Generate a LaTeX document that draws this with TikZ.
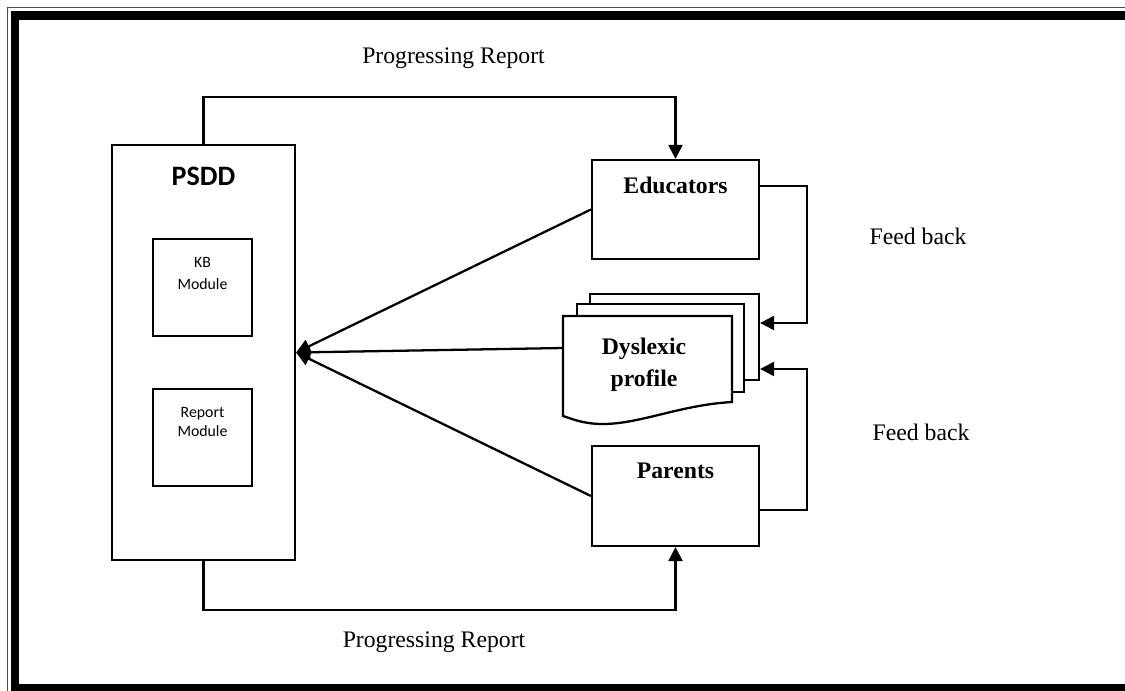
\documentclass[tikz,border=0pt]{standalone}
\usepackage{fontspec}
\setmainfont{Liberation Serif}
\newfontfamily\calibri{Carlito}
\usepackage{tikz}
\usetikzlibrary{arrows.meta,positioning}

\tikzset{
  box/.style={draw, line width=1.3pt, rectangle, inner sep=0pt},
  boxtxt/.style={anchor=north, inner sep=0pt, align=center},
  page/.style={draw, line width=1.3pt, fill=white, rectangle, inner sep=0pt},
  lbl/.style={font=\fontsize{13.5}{16}\selectfont},
}

\begin{document}
\begin{tikzpicture}[x=0.02cm, y=-0.02cm, line width=1.3pt,
    >={Triangle[length=8pt,width=8pt]}]
   \clip (0,0) rectangle (1125,690);
   \useasboundingbox (0,0) rectangle (1125,690);
   \draw[line width=0.7pt, black!70] (7.5,800) -- (7.5,7.5) -- (1200,7.5);
   \draw[line width=4.8pt] (15,15.5) rectangle (1140,688);

   \node[box, minimum width=3.66cm, minimum height=8.3cm,
     label={[boxtxt, yshift=-0.44cm, font=\calibri\bfseries\fontsize{16}{19}\selectfont]north:PSDD}]
     (psdd) at (203.5,352.5) {};
   \node[box, minimum width=1.98cm, minimum height=1.94cm,
     label={[boxtxt, yshift=-0.36cm, font=\calibri\fontsize{9}{12.5}\selectfont]north:KB\\Module}]
     (kb) at (202.5,287.5) {};
   \node[box, minimum width=1.98cm, minimum height=1.94cm,
     label={[boxtxt, yshift=-0.36cm, font=\calibri\fontsize{9}{11}\selectfont]north:Report\\Module}]
     (rep) at (202.5,437.5) {};

   \node[box, minimum width=3.34cm, minimum height=1.98cm,
     label={[boxtxt, yshift=-0.34cm, font=\bfseries\fontsize{13.5}{16}\selectfont]north:Educators}]
     (edu) at (675.5,209.5) {};
   \node[box, minimum width=3.34cm, minimum height=2cm,
     label={[boxtxt, yshift=-0.34cm, font=\bfseries\fontsize{13.5}{16}\selectfont]north:Parents}]
     (par) at (675.5,496) {};

   \node[page, minimum width=3.38cm, minimum height=1.72cm] (pg3) at (674.5,337) {};
   \node[page, minimum width=3.34cm, minimum height=1.76cm] (pg2) at (660.5,348) {};
   \filldraw[fill=white, line width=1.3pt] (563,316) -- (732,316) -- (732,402)
     .. controls (680,405) and (640,424) .. (603,424)
     .. controls (585,424) and (575,420) .. (563,416) -- cycle;
   \node[align=center, font=\bfseries\fontsize{13.5}{18}\selectfont] (dys) at (644,365) {Dyslexic\\profile};
   \coordinate (dysin) at (563,348);

   \node[lbl] (rep_top) at (453.5,58) {Progressing Report};
   \node[lbl] (rep_bot) at (434,642) {Progressing Report};
   \node[lbl] (fb_1) at (918,236) {Feed back};
   \node[lbl] (fb_2) at (921,432) {Feed back};

   \draw[->] (psdd.north) -- (psdd.north |- 0,97) -| (edu.north);
   \draw[->] (psdd.south) -- (psdd.south |- 0,610) -| (par.south);
   \draw[->] (edu.west) -- (psdd.east);
   \draw[->] (dysin) -- (psdd.east);
   \draw[->] (par.west) -- (psdd.east);
   \draw[->] ([yshift=0.47cm]edu.east) -- ++(47,0) |- ([yshift=0.28cm]pg3.east);
   \draw[->] ([yshift=-0.28cm]par.east) -- ++(47,0) |- ([yshift=-0.64cm]pg3.east);
\end{tikzpicture}
\end{document}
